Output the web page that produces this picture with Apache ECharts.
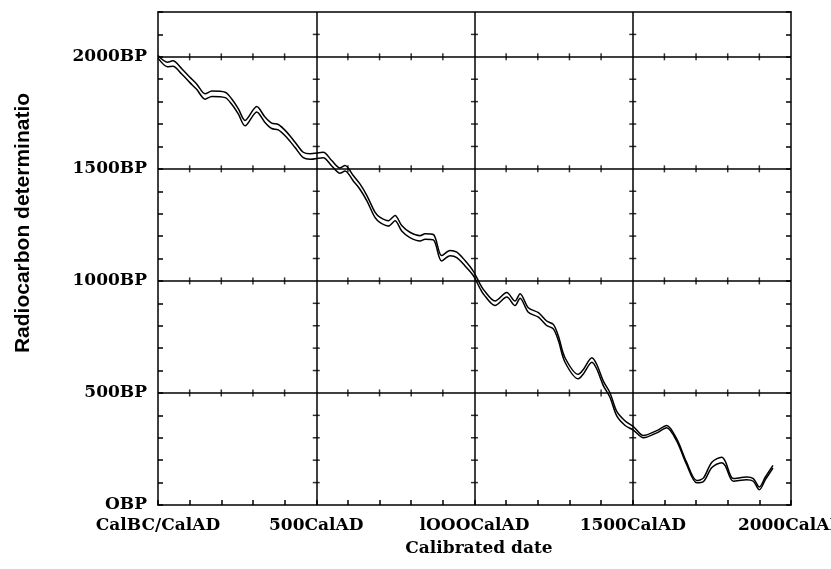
<!DOCTYPE html>
<html>
<head>
<meta charset="utf-8">
<script src="https://cdn.jsdelivr.net/npm/echarts@6/dist/echarts.min.js"></script>
<style>
  html, body { margin: 0; padding: 0; background: #fff; }
  #chart { width: 831px; height: 569px; }
</style>
</head>
<body>
<div id="chart"></div>
<script>
// calibration curve (year AD -> radiocarbon age BP)
const calYears = [0, 30, 47, 75, 100, 122, 149, 170, 212, 233, 254, 275, 312, 338, 359, 380, 407, 433, 459, 480,
  522, 549, 575, 591, 617, 638, 660, 686, 702, 728, 749, 770, 796, 828, 844, 870, 896, 923, 944, 970,
  996, 1018, 1028, 1065, 1102, 1128, 1144, 1170, 1202, 1228, 1249, 1265, 1286, 1328, 1344, 1371, 1386, 1407, 1428, 1449,
  1476, 1502, 1534, 1576, 1607, 1639, 1670, 1702, 1723, 1750, 1781, 1792, 1818, 1860, 1881, 1900, 1919, 1943];
const bpMid = [2000, 1966, 1970, 1935, 1898, 1867, 1823, 1835, 1830, 1800, 1756, 1704, 1766, 1719, 1692, 1686, 1652, 1607, 1562, 1555,
  1562, 1525, 1492, 1503, 1458, 1421, 1369, 1294, 1272, 1257, 1280, 1235, 1205, 1190, 1198, 1195, 1101, 1124, 1116, 1079,
  1034, 975, 952, 900, 938, 900, 933, 870, 848, 811, 796, 744, 647, 573, 595, 647, 618, 543, 491, 409,
  365, 342, 305, 327, 350, 290, 186, 104, 112, 179, 201, 186, 112, 119, 112, 74, 119, 171];
// half width of the 1-sigma band
const bpErr = [6, 10, 12, 12, 12, 12, 12, 12, 12, 12, 12, 12, 12, 12, 12, 12, 12, 12, 12, 12,
  12, 12, 12, 12, 12, 12, 12, 12, 12, 12, 12, 12, 12, 12, 12, 12, 12, 12, 12, 12,
  10, 10, 10, 10, 10, 10, 10, 10, 10, 10, 10, 10, 10, 10, 10, 10, 10, 10, 10, 10,
  10, 8, 5, 5, 5, 5, 5, 5, 8, 12, 12, 10, 6, 6, 6, 6, 6, 6];

const xTickLabels = { 0: 'CalBC/CalAD', 500: '500CalAD', 1000: 'lOOOCalAD', 1500: '1500CalAD', 2000: '2000CalAD' };
const yTickLabels = { 0: 'OBP', 500: '500BP', 1000: '1000BP', 1500: '1500BP', 2000: '2000BP' };
const xGrid = [500, 1000, 1500];
const yGrid = [500, 1000, 1500, 2000];
const xMinor = [100, 200, 300, 400, 600, 700, 800, 900, 1100, 1200, 1300, 1400, 1600, 1700, 1800, 1900];
const yMinor = [100, 200, 300, 400, 600, 700, 800, 900, 1100, 1200, 1300, 1400, 1600, 1700, 1800, 1900, 2100];

const upper = calYears.map((x, i) => [x, bpMid[i] + bpErr[i]]);
const lower = calYears.map((x, i) => [x, bpMid[i] - bpErr[i]]);

// small cross ticks along the interior grid lines
const hTicks = [];
yGrid.forEach(y => xMinor.forEach(x => hTicks.push([x, y])));
const vTicks = [];
xGrid.forEach(x => yMinor.forEach(y => vTicks.push([x, y])));

const serif = 'DejaVu Serif';
const chart = echarts.init(document.getElementById('chart'));

const lineDefaults = {
  type: 'line',
  showSymbol: false,
  smooth: 0.3,
  lineStyle: { color: '#000', width: 1.5 },
  silent: true,
  z: 5
};

chart.setOption({
  animation: false,
  backgroundColor: '#fff',
  grid: { left: 158, right: 40, top: 12, bottom: 64, containLabel: false, outerBoundsMode: 'none' },
  xAxis: [{
    type: 'value', min: 0, max: 2000, interval: 100,
    axisLine: { lineStyle: { color: '#000', width: 1.5 } },
    axisTick: { inside: true, length: 5, lineStyle: { color: '#000', width: 1.5 } },
    axisLabel: {
      margin: 12, color: '#000', fontFamily: serif, fontWeight: 'bold', fontSize: 17,
      showMaxLabel: true, showMinLabel: true, hideOverlap: false,
      formatter: v => xTickLabels[v] || ''
    },
    splitLine: { show: false }
  }, {
    type: 'value', min: 0, max: 2000, position: 'top',
    axisLine: { show: true, onZero: false, lineStyle: { color: '#000', width: 1.5 } },
    axisTick: { show: false }, axisLabel: { show: false }, splitLine: { show: false }
  }],
  yAxis: [{
    type: 'value', min: 0, max: 2200, interval: 100,
    axisLine: { show: true, lineStyle: { color: '#000', width: 1.5 } },
    axisTick: { show: true, inside: true, length: 5, lineStyle: { color: '#000', width: 1.5 } },
    axisLabel: {
      margin: 11, color: '#000', fontFamily: serif, fontWeight: 'bold', fontSize: 17,
      formatter: v => yTickLabels[v] || ''
    },
    splitLine: { show: false }
  }, {
    type: 'value', min: 0, max: 2200, interval: 100, position: 'right',
    axisLine: { show: true, onZero: false, lineStyle: { color: '#000', width: 1.5 } },
    axisTick: { show: true, inside: true, length: 5, lineStyle: { color: '#000', width: 1.5 } },
    axisLabel: { show: false }, splitLine: { show: false }
  }],
  series: [
    {
      type: 'line', data: [], silent: true,
      markLine: {
        symbol: 'none', silent: true, label: { show: false },
        lineStyle: { color: '#000', width: 1.5, type: 'solid' },
        data: xGrid.map(x => ({ xAxis: x })).concat(yGrid.map(y => ({ yAxis: y })))
      }
    },
    {
      type: 'scatter', data: hTicks, symbol: 'rect', symbolSize: [1.5, 7], silent: true,
      itemStyle: { color: '#000' }
    },
    {
      type: 'scatter', data: vTicks, symbol: 'rect', symbolSize: [7, 1.5], silent: true,
      itemStyle: { color: '#000' }
    },
    Object.assign({ data: upper }, lineDefaults),
    Object.assign({ data: lower }, lineDefaults)
  ],
  graphic: [
    {
      type: 'text', x: 23, y: 223, rotation: Math.PI / 2,
      style: {
        text: 'Radiocarbon determinatio', fill: '#000',
        font: 'bold 21px "Liberation Sans"', textAlign: 'center', textVerticalAlign: 'middle'
      }
    },
    {
      type: 'text', x: 479, y: 549,
      style: {
        text: 'Calibrated date', fill: '#000',
        font: 'bold 17px "DejaVu Serif"', textAlign: 'center', textVerticalAlign: 'middle'
      }
    }
  ]
});
</script>
</body>
</html>
